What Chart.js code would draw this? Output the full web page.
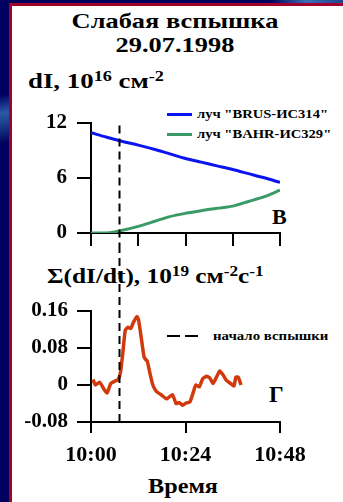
<!DOCTYPE html>
<html>
<head>
<meta charset="utf-8">
<script src="https://cdn.jsdelivr.net/npm/chart.js@4.4.1/dist/chart.umd.min.js"></script>
<style>
body{margin:0;width:343px;height:502px;overflow:hidden;background:#00005e;font-family:"Liberation Serif",serif;font-weight:bold;position:relative;}
#swoosh{position:absolute;left:0;top:95px;width:9px;height:60px;background:linear-gradient(170deg,#00005e 0%,#2a5aa8 30%,#1a3c8a 50%,#00005e 80%);}
#topband{position:absolute;left:270px;top:0;width:73px;height:3px;background:linear-gradient(90deg,#00005e,#3b6db5 50%,#1d4590);}
#sheet{position:absolute;left:9px;top:3px;width:334px;height:499px;background:#fff;border-left:3px solid #a3002c;border-top:3px solid #a3002c;box-sizing:border-box;}
.t{position:absolute;color:#000;white-space:nowrap;line-height:1;}
.t sup{font-size:68%;position:relative;top:-0.5em;vertical-align:baseline;}
canvas{position:absolute;left:0;}
.key{position:absolute;height:3px;}
.dash{position:absolute;height:2px;width:13px;background:#000;}
</style>
</head>
<body>
<div id="swoosh"></div>
<div id="topband"></div>
<div id="sheet"></div>

<div class="t" id="title" style="left:0;top:9px;width:350px;text-align:center;font-size:22px;line-height:24px;transform:scaleX(1.2);transform-origin:175px 0;"></div>
<div class="t" style="left:28px;top:70px;font-size:22px;transform:scaleX(1.22);transform-origin:0 0;">dI, 10<sup>16</sup> см<sup>-2</sup></div>
<div class="t" style="left:47px;top:265px;font-size:22px;transform:scaleX(1.15);transform-origin:0 0;">Σ(dI/dt), 10<sup>19</sup> см<sup>-2</sup>с<sup>-1</sup></div>
<div class="t" style="left:272px;top:206px;font-size:22px;">В</div>
<div class="t" style="left:269px;top:383px;font-size:23px;">Г</div>
<div class="t" id="xtitle" style="left:0;top:475px;width:366px;text-align:center;font-size:22px;transform:scaleX(1.1);transform-origin:183px 0;"></div>

<div id="legend"></div>
<div class="dash" style="left:167px;top:335px;"></div>
<div class="dash" style="left:185px;top:335px;"></div>
<div class="t" id="flareLabel" style="left:213px;top:329px;font-size:13.5px;transform:scaleX(1.1);transform-origin:0 0;"></div>

<canvas id="graficoTop" width="343" height="160" style="top:100px;"></canvas>
<canvas id="graficoBottom" width="343" height="252" style="top:250px;"></canvas>

<script>
// minutes after 10:00
const minutos = [0, 4, 8, 12, 16, 20, 24, 28, 32, 36, 40, 44, 48];
const brusDI = [10.9, 10.4, 9.95, 9.55, 9.1, 8.6, 8.1, 7.7, 7.3, 6.9, 6.45, 6.0, 5.5];
const bahrDI = [0, 0, 0.3, 0.72, 1.25, 1.78, 2.14, 2.43, 2.68, 2.92, 3.43, 3.95, 4.65];
const nomesSeries = ['луч "BRUS-ИС314"', 'луч "BAHR-ИС329"'];

// sum of dI/dt
const minutosSoma = [0.5, 1.1, 2.2, 3.3, 4.1, 5.0, 6.0, 6.9, 7.5, 8.1, 8.7, 9.4, 10.1, 10.8, 11.7, 12.1, 12.8, 13.5, 14.3, 14.9, 15.7, 16.6, 17.8, 19.2, 20.7, 21.6, 22.4, 23.3, 24.1, 25.1, 26.0, 26.6, 27.5, 28.4, 29.4, 30.2, 31.0, 32.1, 32.7, 33.6, 34.4, 35.5, 36.3, 36.8, 37.4, 38.1];
const somaDIdt = [0.012, 0.0, 0.006, -0.009, -0.017, 0.003, 0.008, 0.012, 0.028, 0.071, 0.118, 0.125, 0.122, 0.136, 0.148, 0.14, 0.10, 0.06, 0.051, 0.028, 0.0, -0.014, -0.021, -0.03, -0.021, -0.04, -0.038, -0.044, -0.039, -0.037, -0.015, 0.0, -0.004, 0.014, 0.019, 0.015, 0.003, 0.021, 0.030, 0.021, 0.010, 0.003, -0.002, 0.017, 0.017, 0.0];

const inicioFlare = 7;               // 10:07
const ticksHora = {0: "10:00", 24: "10:24", 48: "10:48"};
const titulo = ["Слабая вспышка", "29.07.1998"];
const tituloX = "Время";
const rotuloFlare = "начало вспышки";

const cores = ["#0a14f0", "#3a9a66"];
const corSoma = "#d03a0c";

document.getElementById("title").innerHTML = titulo.join("<br>");
document.getElementById("xtitle").textContent = tituloX;
document.getElementById("flareLabel").textContent = rotuloFlare;

// legend
const legend = document.getElementById("legend");
nomesSeries.forEach((nome, i) => {
    const y = 114 + i * 20;
    legend.insertAdjacentHTML("beforeend",
        `<div class="key" style="left:167px;top:${y - 1}px;width:25px;background:${cores[i]}"></div>` +
        `<div class="t" style="left:197px;top:${y - 7}px;font-size:13.5px;transform:scaleX(1.08);transform-origin:0 0;">${nome}</div>`);
});

const fonteTick = { family: "Liberation Serif", weight: "bold", size: 21 };

function linhaFlare(fromTop, toBottom, offset) {
    return {
        id: "flare",
        afterDatasetsDraw(chart) {
            const { ctx, chartArea, scales } = chart;
            const x = Math.round(scales.x.getPixelForValue(inicioFlare)) + 0.5;
            ctx.save();
            ctx.strokeStyle = "#000";
            ctx.lineWidth = 2;
            ctx.setLineDash([8, 5]);
            ctx.lineDashOffset = offset;
            ctx.beginPath();
            ctx.moveTo(x, fromTop(chartArea));
            ctx.lineTo(x, toBottom(chartArea, chart));
            ctx.stroke();
            ctx.restore();
        }
    };
}

function eixo(extra) {
    return Object.assign({
        type: "linear",
        grid: { drawOnChartArea: false, drawTicks: true, tickLength: 13, color: "#000", lineWidth: 2 },
        border: { display: true, color: "#000", width: 2 }
    }, extra);
}

//painel de cima
new Chart(document.getElementById("graficoTop"), {
    type: "line",
    data: {
        datasets: [
            { label: nomesSeries[0], data: minutos.map((m, i) => ({ x: m, y: brusDI[i] })), borderColor: cores[0], borderWidth: 3, pointRadius: 0, tension: 0.3 },
            { label: nomesSeries[1], data: minutos.map((m, i) => ({ x: m, y: bahrDI[i] })), borderColor: cores[1], borderWidth: 3, pointRadius: 0, tension: 0.3 }
        ]
    },
    options: {
        responsive: false,
        animation: false,
        devicePixelRatio: 1,
        layout: { padding: { left: 0, top: 22, right: 63, bottom: 0 } },
        plugins: { legend: { display: false }, tooltip: { enabled: false } },
        scales: {
            x: eixo({
                min: 0, max: 48,
                ticks: { stepSize: 12, display: false },
                afterFit: s => { s.height = 27; }
            }),
            y: eixo({
                min: 0, max: 12,
                grid: { drawOnChartArea: false, tickLength: 14, color: "#000", lineWidth: 2 },
                ticks: { stepSize: 3, color: "#000", font: fonteTick, padding: 10, callback: v => (v % 6 === 0 ? v : "") },
                afterFit: s => { s.width = 91; }
            })
        }
    },
    plugins: [linhaFlare(a => a.top + 3, () => 150, 0)]
});

//painel de baixo
new Chart(document.getElementById("graficoBottom"), {
    type: "line",
    data: {
        datasets: [
            { label: "Σ(dI/dt)", data: minutosSoma.map((m, i) => ({ x: m, y: somaDIdt[i] })), borderColor: corSoma, borderWidth: 3.5, pointRadius: 0, tension: 0.15 }
        ]
    },
    options: {
        responsive: false,
        animation: false,
        devicePixelRatio: 1,
        layout: { padding: { left: 0, top: 61, right: 63, bottom: 0 } },
        plugins: { legend: { display: false }, tooltip: { enabled: false } },
        scales: {
            x: eixo({
                min: 0, max: 48,
                grid: { drawOnChartArea: false, tickLength: 11, color: "#000", lineWidth: 2 },
                ticks: { stepSize: 12, color: "#000", font: Object.assign({}, fonteTick, { size: 22 }), padding: 9, maxRotation: 0, callback: v => ticksHora[v] || "" },
                afterFit: s => { s.height = 80; }
            }),
            y: eixo({
                min: -0.08, max: 0.16,
                grid: { drawOnChartArea: false, tickLength: 14, color: "#000", lineWidth: 2 },
                ticks: { stepSize: 0.08, color: "#000", font: fonteTick, padding: 9, callback: v => (Math.abs(v) < 1e-9 ? "0" : v.toFixed(2)) },
                afterFit: s => { s.width = 91; }
            })
        }
    },
    plugins: [linhaFlare(() => 0, a => a.bottom, 5)]
});
</script>
</body>
</html>
